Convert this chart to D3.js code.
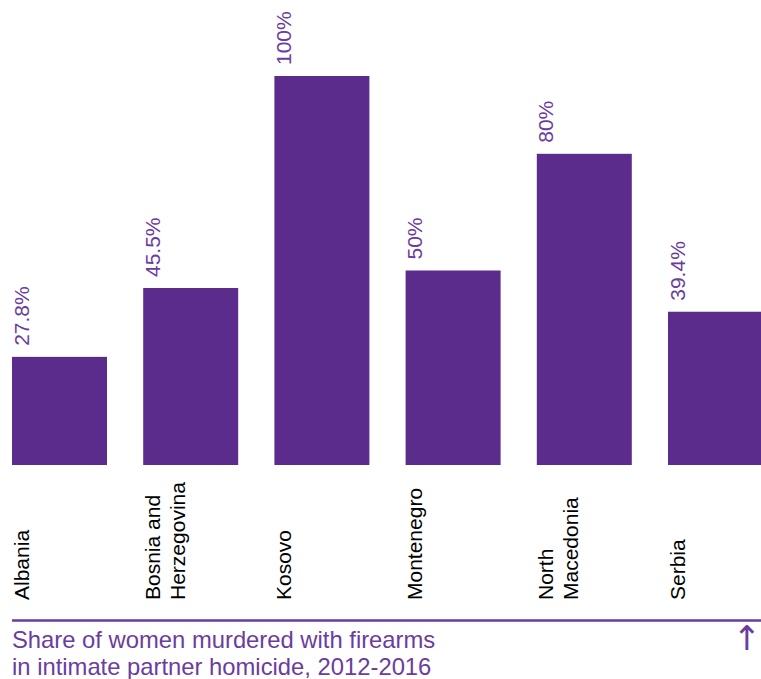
<!DOCTYPE html>
<html><head><meta charset="utf-8">
<script src="https://cdn.jsdelivr.net/npm/d3@7"></script>
<style>body{margin:0;background:#fff}svg{display:block;font-family:"Liberation Sans",Arial,sans-serif}</style>
</head><body><div id="c"></div>
<script>
const categories = ["Albania","Bosnia and Herzegovina","Kosovo","Montenegro","North Macedonia","Serbia"];
const categoryLines = [["Albania"],["Bosnia and","Herzegovina"],["Kosovo"],["Montenegro"],["North","Macedonia"],["Serbia"]];
const values = [27.8,45.5,100,50,80,39.4];
const valueLabels = ["27.8%","45.5%","100%","50%","80%","39.4%"];
const titleLines = ["Share of women murdered with firearms","in intimate partner homicide, 2012-2016"];

const W=761,H=679;
const svg=d3.select("#c").append("svg").attr("width",W).attr("height",H);
const x=d3.scaleBand().domain(categories).range([12,763]).paddingInner(0.276).paddingOuter(0);
const y=d3.scaleLinear().domain([0,100]).range([465,76]);
const bar="#5b2c8c", purple="#6a3d9e";

svg.selectAll("rect.bar").data(values).join("rect")
  .attr("x",(d,i)=>x(categories[i])).attr("y",d=>y(d))
  .attr("width",x.bandwidth()).attr("height",d=>y(0)-y(d)).attr("fill",bar);

svg.selectAll("text.val").data(values).join("text")
  .attr("transform",(d,i)=>`translate(${x(categories[i])+16.5},${y(d)-11}) rotate(-90)`)
  .attr("font-size",21).attr("fill",purple).text((d,i)=>valueLabels[i]);

categoryLines.forEach((lines,i)=>{
  lines.forEach((l,j)=>{
    svg.append("text")
      .attr("transform",`translate(${x(categories[i])+16.5+j*25},600) rotate(-90)`)
      .attr("text-anchor","start").attr("font-size",21).attr("fill","#000").text(l);
  });
});

svg.append("line").attr("x1",12).attr("x2",761).attr("y1",620.5).attr("y2",620.5)
  .attr("stroke",purple).attr("stroke-width",2.5);
titleLines.forEach((t,i)=>svg.append("text").attr("x",12).attr("y",648+i*27)
  .attr("font-size",23.8).attr("fill",purple).text(t));
svg.append("text").attr("x",761).attr("y",650).attr("text-anchor","end")
  .attr("font-size",34).attr("font-family","DejaVu Sans").attr("fill",purple).text("↑");
</script></body></html>
